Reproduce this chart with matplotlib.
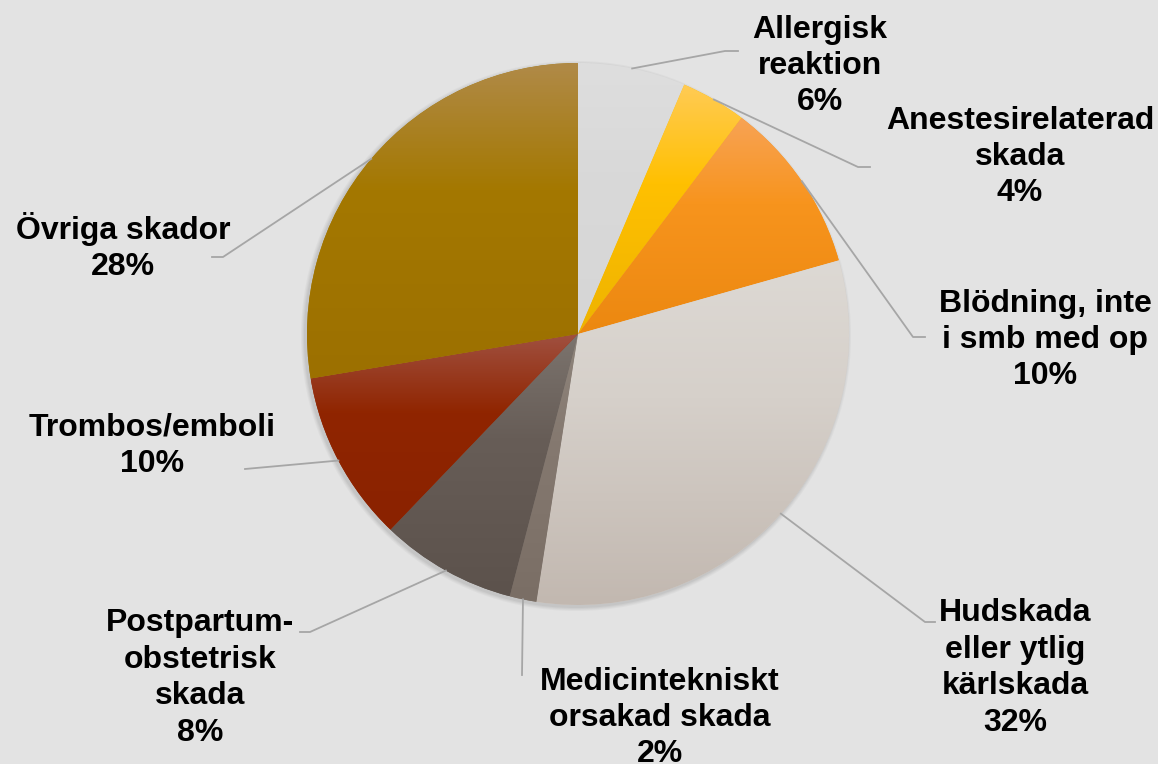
import matplotlib.pyplot as plt
import numpy as np
from matplotlib.colors import LinearSegmentedColormap
from matplotlib.patches import Circle

W, H = 1158, 764

# data
categories = ["Allergisk\nreaktion", "Anestesirelaterad\nskada", "Blödning, inte\ni smb med op",
              "Hudskada\neller ytlig\nkärlskada", "Medicintekniskt\norsakad skada",
              "Postpartum-\nobstetrisk\nskada", "Trombos/emboli", "Övriga skador"]
values = [6.4, 3.9, 10.3, 31.8, 1.6, 8.1, 10.2, 27.6]

# gradient stops per slice: top, main, bottom
grad = [("#dedede", "#d9d9d9", "#d6d6d6"),
        ("#ffcb55", "#ffc000", "#eeb300"),
        ("#f8a355", "#f7941d", "#ec8810"),
        ("#ddd9d4", "#d6d0ca", "#c2b8b0"),
        ("#8e847b", "#857970", "#7a6e65"),
        ("#7c746e", "#675d57", "#5c524c"),
        ("#a05040", "#902500", "#8a2200"),
        ("#b08a48", "#a47800", "#9c7000")]

# label block centres and leader line elbow/end (pixel coords from top-left)
label_xy = [(820, 66), (1020, 157), (1045, 340), (1015, 668),
            (660, 718), (200, 678), (152, 446), (123, 247)]
leader = [((725, 51), (738, 51)), ((858, 167), (870, 167)), ((913, 337), (925, 337)),
          ((925, 622), (935, 622)), ((522, 675), (522, 675)), ((310, 632), (300, 632)),
          ((245, 469), (245, 469)), ((223, 257), (212, 257))]

bg = "#e3e3e3"
cx, cy, R = 578, H - 334, 271

fig = plt.figure(figsize=(W / 100, H / 100), dpi=100, facecolor=bg)
ax = fig.add_axes([0, 0, 1, 1])
ax.set_facecolor(bg)

# soft shadow
for i, a in enumerate([0.05, 0.05, 0.06, 0.08]):
    ax.add_patch(Circle((cx - 2, cy - 2), R + 4 - i, color="#606060", alpha=a, lw=0, zorder=1))

wedges, _ = ax.pie(values, startangle=90, counterclock=False, center=(cx, cy), radius=R,
                   wedgeprops=dict(linewidth=0), colors=[g[1] for g in grad])

for w, g in zip(wedges, grad):
    w.set_zorder(2)
    ext = w.get_path().get_extents()
    cmap = LinearSegmentedColormap.from_list("g", [(0, g[0]), (0.4, g[1]), (1, g[2])])
    img = ax.imshow(np.linspace(0, 1, 256).reshape(-1, 1), cmap=cmap, aspect="auto",
                    extent=(ext.x0, ext.x1, ext.y0, ext.y1), origin="upper",
                    interpolation="bilinear", zorder=3)
    img.set_clip_path(w)

# leader lines and labels
for w, v, cat, (lx, ly), (elb, end) in zip(wedges, values, categories, label_xy, leader):
    mid = np.deg2rad((w.theta1 + w.theta2) / 2)
    sx, sy = cx + R * np.cos(mid), cy + R * np.sin(mid)
    ax.plot([sx, elb[0], end[0]], [sy, H - elb[1], H - end[1]], color="#a6a6a6", lw=1.3, zorder=4)
    ax.text(lx, H - ly, f"{cat}\n{round(v)}%", ha="center", va="center", multialignment="center",
            fontsize=23, fontweight="bold", family="Liberation Sans", linespacing=1.28,
            color="black", zorder=5)

ax.set_xlim(0, W)
ax.set_ylim(0, H)
ax.set_aspect("equal")
ax.axis("off")

fig.savefig("out.png", dpi=100, facecolor=bg)
